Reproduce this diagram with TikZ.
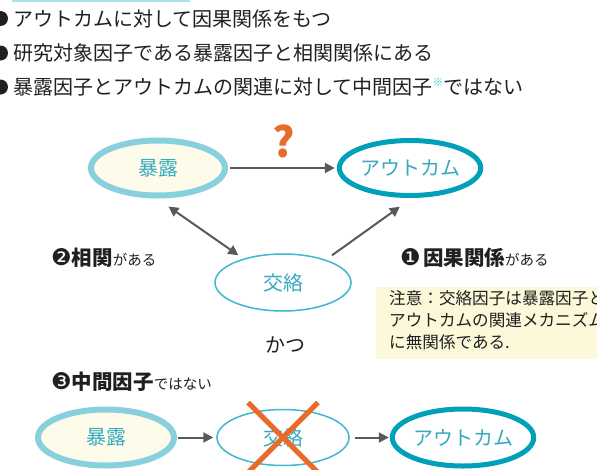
\documentclass[tikz,border=0pt]{standalone}
\usepackage{fontspec}
\setmainfont{Noto Sans CJK JP}
\newfontfamily\circfont{DejaVu Sans}
\usetikzlibrary{shapes.geometric,arrows.meta}

\definecolor{expoline}{HTML}{88D0DD}
\definecolor{outcline}{HTML}{00A0B8}
\definecolor{confline}{HTML}{3DB8D0}
\definecolor{nodetext}{HTML}{35A9C0}
\definecolor{cream}{HTML}{FDFBEA}
\definecolor{notefill}{HTML}{FCF8DA}
\definecolor{arrowgray}{HTML}{595959}
\definecolor{qorange}{HTML}{EA6A2A}
\definecolor{textgray}{HTML}{202020}
\definecolor{topline}{HTML}{A8E2EC}
\definecolor{markcyan}{HTML}{3FC0D8}

\newcommand{\numdot}[1]{{\circfont\fontsize{23}{23}\selectfont #1}}
\newcommand{\keyw}[1]{{\bfseries\fontsize{20.5}{20.5}\selectfont #1}}
\newcommand{\tailw}[1]{{\fontsize{14.5}{14.5}\selectfont #1}}

\begin{document}
\begin{tikzpicture}[x=1pt, y=-1pt,
  nodebase/.style={ellipse, inner sep=0pt, text=nodetext, font=\fontsize{20}{20}\selectfont},
  expo/.style={nodebase, draw=expoline, line width=6pt, fill=cream, minimum width=134pt, minimum height=55pt},
  outc/.style={nodebase, draw=outcline, line width=5pt, fill=white, minimum width=136pt, minimum height=55pt},
  conf/.style={nodebase, draw=confline, line width=1.5pt, fill=white, minimum width=136pt, minimum height=57pt},
  link/.style={draw=arrowgray, line width=2pt, -{Triangle[length=10pt,width=10pt]}},
  both/.style={link, {Triangle[length=10pt,width=10pt]}-{Triangle[length=10pt,width=10pt]}},
  itemtext/.style={anchor=west, inner sep=0pt, text=textgray, font=\fontsize{20}{20}\selectfont},
  tag/.style={anchor=west, inner sep=0pt, text=textgray},
  xline/.style={draw=qorange, line width=5pt}]
\useasboundingbox (0,0) rectangle (597,469);
\clip (0,0) rectangle (597,469);
% thin rule at the top edge
\draw[topline, line width=2.5pt] (12,1) -- (190,1);
% the three conditions
\fill[textgray] (0.5,18.5) circle (7.5pt);
\node[itemtext] (item1) at (13,18.5) {アウトカムに対して因果関係をもつ};
\fill[textgray] (0.5,53) circle (7.5pt);
\node[itemtext] (item2) at (13,53) {研究対象因子である暴露因子と相関関係にある};
\fill[textgray] (0.5,87) circle (7.5pt);
\node[itemtext] (item3) at (13,87) {暴露因子とアウトカムの関連に対して中間因子{\color{markcyan}\raisebox{0.4em}{\fontsize{11}{11}\selectfont ※}}ではない};
% upper triangle
\node[expo] (bakuro) at (158,168) {暴露};
\node[outc] (outcome) at (410,168) {アウトカム};
\node[conf] (kouraku) at (283,282.5) {交絡};
\draw[link, shorten <=2pt, shorten >=2pt] (bakuro) -- (outcome);
\node[text=qorange, inner sep=0pt, font=\bfseries\fontsize{42}{42}\selectfont] (qmark) at (284,141) {?};
\draw[both, shorten <=14pt, shorten >=6pt] (bakuro.-92) -- (kouraku.149);
\draw[link, shorten <=7.5pt, shorten >=15pt] (kouraku.28) -- (outcome.-86);
% labels of the two arrows
\node[tag] (corr) at (51,258) {\numdot{❷}\keyw{相関}\tailw{がある}};
\node[tag] (cause) at (400,258) {\numdot{❶} \keyw{因果関係}\tailw{がある}};
% note box, cut at the right edge
\fill[notefill] (376,287) rectangle (600,359);
\node[anchor=north west, inner sep=0pt, align=left, text=textgray, font=\fontsize{16.6}{22}\selectfont] (note) at (389,290) {注意：交絡因子は暴露因子と\\アウトカムの関連メカニズム\\に無関係である.};
\node[text=textgray, inner sep=0pt, font=\fontsize{20}{20}\selectfont] (katsu) at (285,345) {かつ};
% lower chain
\node[tag] (mid) at (51,382) {\numdot{❸}\keyw{中間因子}\tailw{ではない}};
\node[expo, minimum width=136pt, minimum height=56pt] (bakuro2) at (106,437.5) {暴露};
\node[conf, minimum width=132pt, minimum height=56pt] (kouraku2) at (283,437.5) {交絡};
\node[outc, minimum width=138pt, minimum height=57pt] (outcome2) at (463,437.5) {アウトカム};
\draw[link, shorten <=1pt, shorten >=3pt] (bakuro2) -- (kouraku2);
\draw[link, shorten <=5pt, shorten >=1pt] (kouraku2) -- (outcome2);
% cross over the mediator
\draw[xline] ([shift={(-35,-35)}]kouraku2.center) -- ([shift={(35,35)}]kouraku2.center);
\draw[xline] ([shift={(35,-35)}]kouraku2.center) -- ([shift={(-35,35)}]kouraku2.center);
\end{tikzpicture}
\end{document}
